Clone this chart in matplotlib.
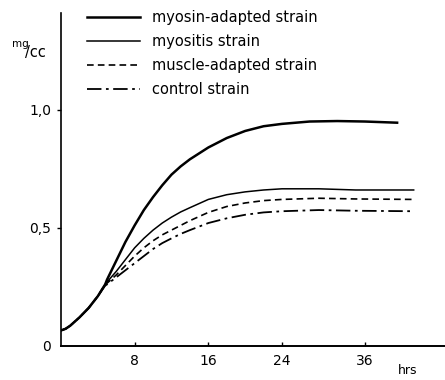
import matplotlib
matplotlib.use("Agg")
from matplotlib import pyplot as plt

# hours / concentration (mg/cc)
hours_myosin = [0, 0.5, 1, 2, 3, 4, 4.8, 5, 6, 7, 8, 9, 10, 11, 12, 13, 14, 16, 18, 20, 22, 24, 27, 30, 33,
                36.5]
myosin_adapted = [0.065, 0.072, 0.085, 0.12, 0.16, 0.21, 0.26, 0.28, 0.36, 0.44, 0.51, 0.575, 0.63, 0.68,
                  0.725, 0.76, 0.79, 0.84, 0.88, 0.91, 0.93, 0.94, 0.95, 0.952, 0.95, 0.945]

hours = [0, 0.5, 1, 2, 3, 4, 4.8, 5, 6, 7, 8, 9, 10, 11, 12, 13, 14, 16, 18, 20, 22, 24, 28, 32, 38.3]
myositis = [0.065, 0.072, 0.085, 0.12, 0.16, 0.21, 0.26, 0.27, 0.315, 0.365, 0.415, 0.455, 0.49, 0.52,
            0.545, 0.567, 0.585, 0.62, 0.64, 0.652, 0.66, 0.665, 0.665, 0.66, 0.66]
muscle_adapted = [0.065, 0.072, 0.085, 0.12, 0.16, 0.21, 0.26, 0.265, 0.30, 0.34, 0.38, 0.415, 0.445, 0.47,
                  0.49, 0.51, 0.53, 0.565, 0.59, 0.605, 0.615, 0.62, 0.625, 0.622, 0.62]
control = [0.065, 0.072, 0.085, 0.12, 0.16, 0.21, 0.255, 0.26, 0.29, 0.32, 0.35, 0.38, 0.41, 0.435,
           0.455, 0.474, 0.49, 0.52, 0.54, 0.555, 0.565, 0.57, 0.575, 0.572, 0.57]

xtick_pos = [8, 16, 24, 33]
xtick_labels = ["8", "16", "24", "36"]
ytick_pos = [0, 0.5, 1.0]
ytick_labels = ["0", "0,5", "1,0"]

plt.rcParams["font.family"] = "DejaVu Sans"

fig = plt.figure(figsize=(4.45, 3.8), dpi=100)
ax = fig.add_axes([0.137, 0.09, 0.863, 0.876])

line_kw = dict(color="black", solid_joinstyle="round", dash_joinstyle="round")
ax.plot(hours_myosin, myosin_adapted, lw=1.8, label="myosin-adapted strain", **line_kw)
ax.plot(hours, myositis, lw=1.1, label="myositis strain", **line_kw)
ax.plot(hours, muscle_adapted, lw=1.2, ls=(0, (4, 2.5)), label="muscle-adapted strain", **line_kw)
ax.plot(hours, control, lw=1.3, ls=(0, (8, 2.5, 1.5, 2.5)), label="control strain", **line_kw)

ax.set_xlim(0, 41.7)
ax.set_ylim(0, 1.41)

for side in ["top", "right"]:
    ax.spines[side].set_visible(False)
ax.spines["left"].set_linewidth(1.2)
ax.spines["bottom"].set_linewidth(1.4)

ax.set_xticks(xtick_pos)
ax.set_xticklabels(xtick_labels, fontsize=10)
ax.set_yticks(ytick_pos)
ax.set_yticklabels(ytick_labels, fontsize=10)
ax.tick_params(axis="x", direction="in", length=3, width=1, pad=6)
ax.tick_params(axis="y", direction="out", length=3, width=1, pad=4)
ax.yaxis.get_major_ticks()[0].tick1line.set_visible(False)

# units: raised "mg" over "/cc"
fig.text(0.027, 0.876, "mg", fontsize=7.5)
fig.text(0.056, 0.85, "/cc", fontsize=10.5)
fig.text(0.893, 0.015, "hrs", fontsize=9)

ax.legend(loc="upper left", bbox_to_anchor=(0.068, 1.008), frameon=False, fontsize=10.5,
          handlelength=3.6, handletextpad=0.85, labelspacing=0.62, borderpad=0, borderaxespad=0)

fig.savefig("out.png", dpi=100)
